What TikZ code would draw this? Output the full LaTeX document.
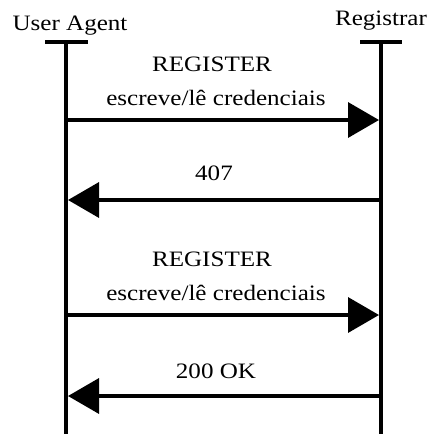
\documentclass[tikz,border=0pt]{standalone}
\usepackage{fontspec}
\setmainfont{Liberation Serif}[FakeStretch=1.14]
\usetikzlibrary{arrows.meta}
\begin{document}
\begin{tikzpicture}[x=1pt,y=-1pt,
  lifeline/.style={line width=4.5pt},
  tbar/.style={line width=4pt},
  msg/.style={line width=3.5pt,-{Triangle[length=31pt,width=35pt]}},
  lbl/.style={anchor=base,inner sep=0pt,font=\fontsize{22}{24}\selectfont}]
\useasboundingbox (0,0) rectangle (429,434);
% actors
\node[lbl] (ua) at (70,30) {User Agent};
\node[lbl] (rg) at (381,25) {Registrar};
% lifeline ends
\coordinate (uaT) at (66,42);
\coordinate (uaB) at (66,436);
\coordinate (rgT) at (381,42);
\coordinate (rgB) at (381,436);
\coordinate (uaL) at (45,42);
\coordinate (uaR) at (88,42);
\coordinate (rgL) at (360,42);
\coordinate (rgR) at (402,42);
\draw[tbar] (uaL) -- (uaR);
\draw[tbar] (rgL) -- (rgR);
\draw[lifeline] (uaT) -- (uaB);
\draw[lifeline] (rgT) -- (rgB);
% message endpoints
\coordinate (m1s) at (66,120);  \coordinate (m1e) at (379,120);
\coordinate (m2s) at (381,200); \coordinate (m2e) at (68,200);
\coordinate (m3s) at (66,315);  \coordinate (m3e) at (379,315);
\coordinate (m4s) at (381,396); \coordinate (m4e) at (68,396);
\draw[msg] (m1s) -- (m1e);
\draw[msg] (m2s) -- (m2e);
\draw[msg] (m3s) -- (m3e);
\draw[msg] (m4s) -- (m4e);
% labels
\node[lbl] (r1) at (212,71) {REGISTER};
\node[lbl] (c1) at (216,105) {escreve/lê credenciais};
\node[lbl] (e407) at (214,180) {407};
\node[lbl] (r2) at (212,266) {REGISTER};
\node[lbl] (c2) at (216,300) {escreve/lê credenciais};
\node[lbl] (ok) at (216,378) {200 OK};
\end{tikzpicture}
\end{document}
